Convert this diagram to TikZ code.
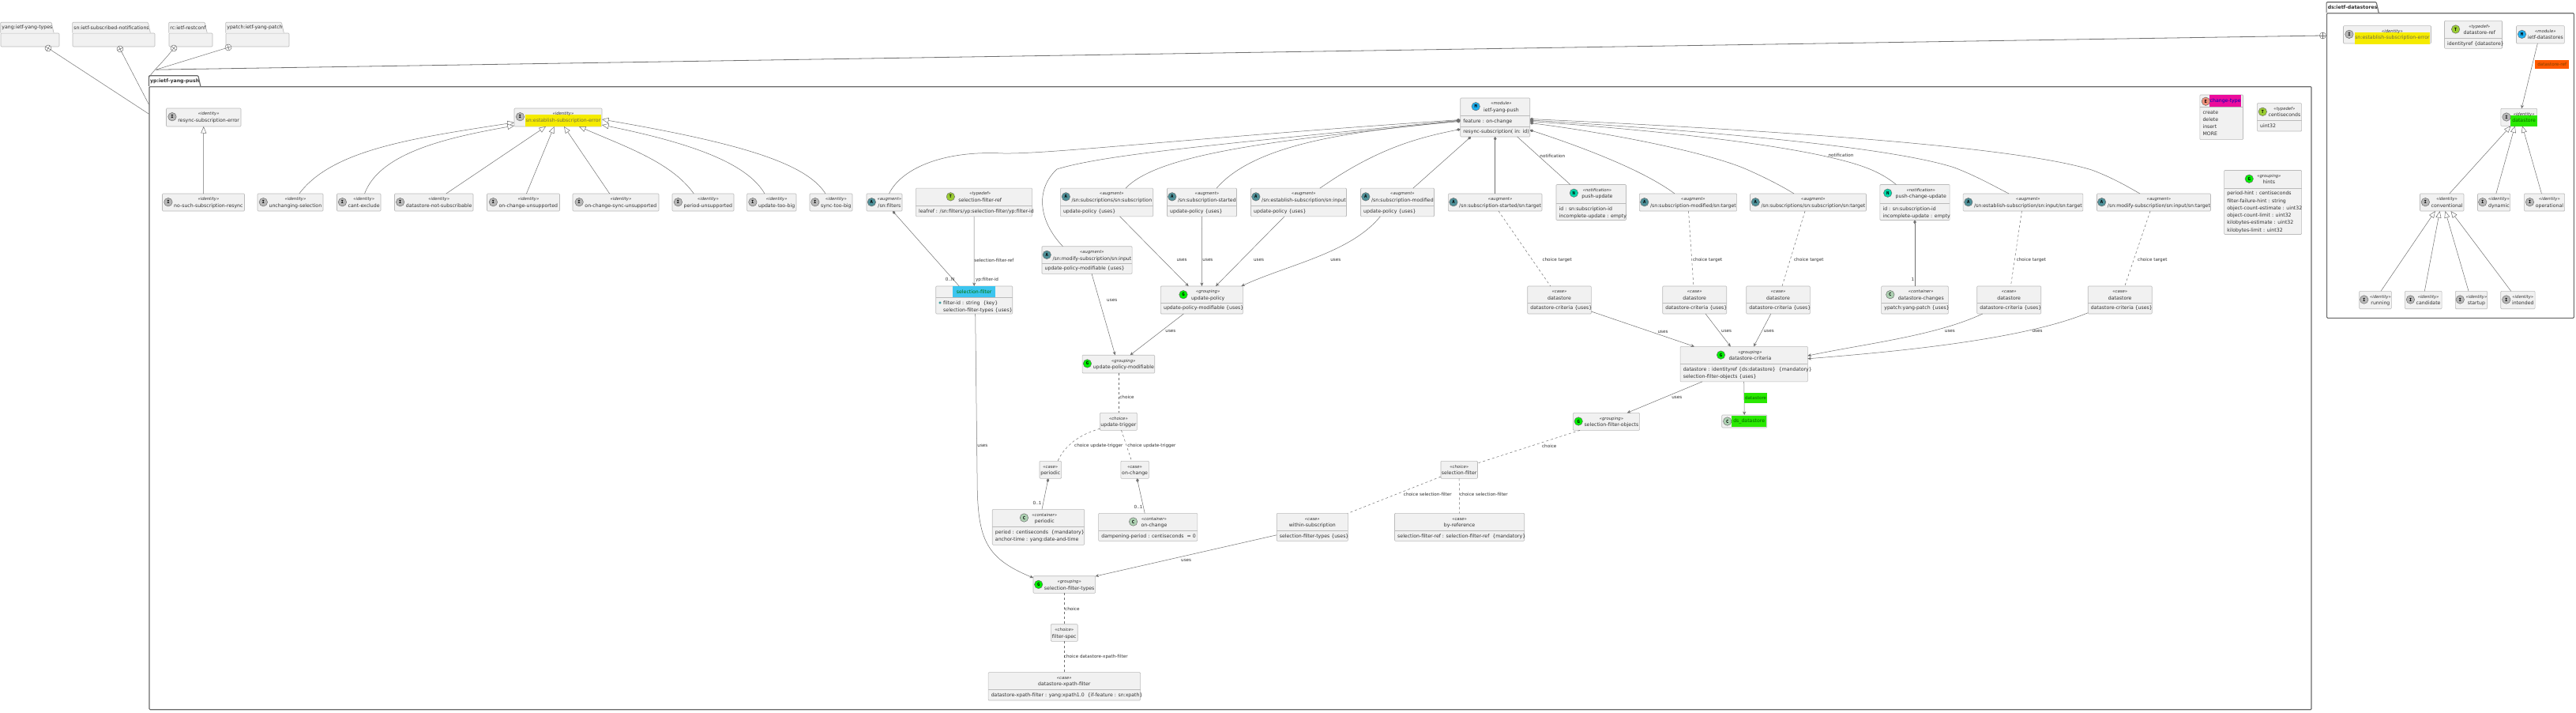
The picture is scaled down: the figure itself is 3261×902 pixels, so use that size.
\documentclass[tikz,border=0pt]{standalone}
\usepackage{fontspec}
\setmainfont{DejaVu Sans}
\setmonofont{DejaVu Sans Mono}
\usetikzlibrary{arrows.meta,positioning}
\definecolor{umlText}{HTML}{303030}
\definecolor{umlFill}{HTML}{F1F1F1}
\definecolor{umlEdge}{HTML}{BBBBBB}
\definecolor{umlLine}{HTML}{707070}
\definecolor{pkgEdge}{HTML}{6A6A6A}
\newcommand{\namefont}{\fontsize{6.2}{7.5}\selectfont}
\newcommand{\stereofont}{\fontsize{5.3}{6.5}\selectfont\itshape}
\newcommand{\labelfont}{\fontsize{5.66}{7}\selectfont}
\newcommand{\bodyfont}{\fontsize{6.2}{9.25}\selectfont}
\newlength{\namewd}
\newlength{\stereowd}
\tikzset{%
	classbox/.style  = {draw=umlEdge, fill=umlFill, rectangle, rounded corners=1pt, line width=0.6pt, inner sep=0pt, outer sep=0pt},
	sepline/.style   = {draw=umlEdge, line width=0.6pt},
	namelabel/.style = {font=\namefont, inner sep=0pt, anchor=base, text height=4.8pt, text depth=1.3pt},
	stereo/.style    = {font=\stereofont, inner sep=0pt, anchor=base},
	bodytext/.style  = {font=\bodyfont, inner sep=0pt, align=left, anchor=north west},
	edgelabel/.style = {font=\labelfont, inner sep=0pt},
	icon/.style      = {draw=umlLine, circle, line width=0.5pt, minimum size=10.5pt, inner sep=0pt, font=\ttfamily\bfseries\fontsize{5.6}{6}\selectfont, text=black},
	iconI/.style     = {icon, fill={rgb,255:red,184;green,184;blue,184}},
	iconA/.style     = {icon, fill={rgb,255:red,78;green,144;blue,152}},
	iconG/.style     = {icon, fill={rgb,255:red,0;green,238;blue,0}},
	iconT/.style     = {icon, fill={rgb,255:red,154;green,205;blue,50}},
	iconM/.style     = {icon, fill={rgb,255:red,30;green,176;blue,240}},
	iconN/.style     = {icon, fill={rgb,255:red,0;green,216;blue,168}},
	iconE/.style     = {icon, fill={rgb,255:red,239;green,143;blue,122}},
	iconC/.style     = {icon, fill={rgb,255:red,173;green,209;blue,178}},
	hlyellow/.style  = {fill={rgb,255:red,245;green,235;blue,0}, text=black!65!yellow, inner xsep=0.5pt, inner ysep=4.3pt},
	hlgreen/.style   = {fill={rgb,255:red,42;green,232;blue,0}, text=black!60!green, inner xsep=2pt, inner ysep=4pt},
	hlblue/.style    = {fill={rgb,255:red,60;green,197;blue,239}, text=black!55!green, inner xsep=5pt, inner ysep=4pt},
	hlmagenta/.style = {fill={rgb,255:red,236;green,12;blue,156}, text=black!30!blue, inner xsep=0.5pt, inner ysep=5pt},
	hlorange/.style  = {fill={rgb,255:red,255;green,90;blue,0}, text=black!50!orange, inner xsep=3pt, inner ysep=3pt},
	plainline/.style = {draw=umlLine, line width=0.5pt},
	usesarrow/.style = {plainline, -{Stealth[length=4.5pt,width=4pt]}},
	compline/.style  = {plainline, {Diamond[length=5pt,width=3.6pt]}-},
	extline/.style   = {plainline, -{Triangle[open,fill=white,length=8.5pt,width=7pt]}},
	choiceline/.style= {plainline, dash pattern=on 3pt off 3pt},
	pkgsmall/.style  = {draw=umlEdge, fill=umlFill, line width=0.7pt, rounded corners=1pt, inner sep=0pt},
	pkgbig/.style    = {draw=pkgEdge, fill=white, line width=1.1pt, rounded corners=1pt, inner sep=0pt},
	pkgtitle/.style  = {inner xsep=1.5pt, inner ysep=0pt, minimum height=13pt},
	nest/.style      = {draw=umlLine, fill=white, circle, line width=0.5pt, minimum size=8pt, inner sep=0pt,
		path picture={\draw[plainline] (path picture bounding box.center) ++(#1:5) -- ++(#1:-10) (path picture bounding box.center) ++(#1+90:5) -- ++(#1+90:-10);}},
	keymark/.style   = {draw=teal, circle, line width=0.5pt, minimum size=2.6pt, inner sep=0pt},
}
% [name options]{id}{placement}{width}{height}{icon letter}{stereotype}{name}
\newcommand{\classnode}[8][]{%
	\settowidth{\namewd}{\pgfinterruptpicture\namefont #8\endpgfinterruptpicture}%
	\settowidth{\stereowd}{\pgfinterruptpicture\stereofont #7\endpgfinterruptpicture}%
	\pgfmathsetmacro{\headwd}{max(\namewd,\stereowd)}%
	\pgfmathsetmacro{\icongap}{(#4-\headwd-11>12)?10:7.3}%
	\pgfmathsetmacro{\headoff}{(\icongap+5.5)/2}%
	\node[classbox,#3,minimum width=#4pt,minimum height=#5pt] (#2) {};
	\node[namelabel,#1] (#2name) at ([xshift=\headoff,yshift=-17.3]#2.north) {#8};
	\node[stereo] (#2stereo) at ([xshift=\headoff,yshift=-8.8]#2.north) {#7};
	\node[icon#6] (#2icon) at ([xshift={\headoff-0.5*\headwd-\icongap},yshift=-10.7]#2.north) {#6};
}
% same thing, without an icon
\newcommand{\casenode}[6]{%
	\node[classbox,#2,minimum width=#3pt,minimum height=#4pt] (#1) {};
	\node[namelabel] (#1name) at ([yshift=-17.3]#1.north) {#6};
	\node[stereo] (#1stereo) at ([yshift=-8.8]#1.north) {#5};
}
% [indent]{id}{separator below top}{lines}
\newcommand{\classbody}[4][3.5]{%
	\draw[sepline] ([yshift=-#3]#2.north west) -- ([yshift=-#3]#2.north east);
	\node[bodytext] (#2body) at ([xshift=#1,yshift={-#3-4}]#2.north west) {#4};
}
% {style}{id}{placement}{width}{height}{title}
\newcommand{\packagenode}[6]{%
	\node[#1,#3,minimum width=#4pt,minimum height=#5pt] (#2) {};
	\node[pkgtitle,anchor=south west] (#2tab) at (#2.north west) {#6};
	\draw[#1] (#2tab.south west) -- (#2tab.north west) -- ([xshift=-3]#2tab.north east) -- (#2tab.south east);
	\node[pkgtitle,anchor=south west] (#2title) at (#2.north west) {#6};
}
\begin{document}
\begin{tikzpicture}[x=1pt,y=-1pt,text=umlText]
	\useasboundingbox (0,0) rectangle (3261,902);
	% imported modules
	\packagenode{pkgsmall}{pkgTypes}{at={(38,50.5)}}{74}{17}{\namefont yang:ietf-yang-types}
	\packagenode{pkgsmall}{pkgNotif}{right of=pkgTypes,node distance=106pt}{104}{17}{\namefont sn:ietf-subscribed-notifications}
	\packagenode{pkgsmall}{pkgRestconf}{right of=pkgNotif,node distance=97.5pt}{55}{17}{\namefont rc:ietf-restconf}
	\packagenode{pkgsmall}{pkgPatch}{right of=pkgRestconf,node distance=84.5pt}{80}{17}{\namefont ypatch:ietf-yang-patch}
	\packagenode{pkgbig}{ypPkg}{at={(1557.5,503.7)}}{2737}{788}{\namefont\bfseries yp:ietf-yang-push}
	\packagenode{pkgbig}{dsPkg}{at={(3102,209.5)}}{312.7}{385.6}{\namefont\bfseries ds:ietf-datastores}

	% first row of yp
	\classnode{resyncError}{at={(257.75,148.5)}}{94.5}{23}{I}{«identity»}{resync-subscription-error}
	\classnode[hlyellow]{establishError}{right of=resyncError,node distance=448.75pt}{111}{23}{I}{«identity»}{sn:establish-subscription-error}
	\classnode{pushModule}{right of=establishError,node distance=1186.2pt}{88}{49}{M}{«module»}{ietf-yang-push}
	\classbody{pushModule}{22.7}{feature : on-change}
	\draw[sepline] ([yshift=-36]pushModule.north west) -- ([yshift=-36]pushModule.north east);
	\node[bodytext] (pushModuleRpc) at ([xshift=3.5,yshift=-40]pushModule.north west) {resync-subscription( in: id)};
	\node[classbox,minimum width=54.7pt,minimum height=56.7pt] (changeType) at (2812.15,148.3) {};
	\node[namelabel,hlmagenta] (changeTypename) at ([xshift=5,yshift=-10]changeType.north) {change-type};
	\node[iconE] (changeTypeicon) at ([xshift=7.5,yshift=-8.3]changeType.north west) {E};
	\classbody{changeType}{15.7}{create\\delete\\insert\\MORE}
	\classnode{centiseconds}{right of=changeType,node distance=73.35pt}{56.2}{35.3}{T}{«typedef»}{centiseconds}
	\classbody{centiseconds}{22}{uint32}

	% second row of yp
	\classnode{noSuchResync}{at={(257.5,256)}}{104}{22}{I}{«identity»}{no-such-subscription-resync}
	\classnode{unchanging}{right of=noSuchResync,node distance=110pt}{83}{22}{I}{«identity»}{unchanging-selection}
	\classnode{cantExclude}{right of=unchanging,node distance=86.75pt}{55.5}{22}{I}{«identity»}{cant-exclude}
	\classnode{notSubscribable}{right of=cantExclude,node distance=95pt}{99.5}{22}{I}{«identity»}{datastore-not-subscribable}
	\classnode{changeUnsupported}{right of=notSubscribable,node distance=113.25pt}{92}{22}{I}{«identity»}{on-change-unsupported}
	\classnode{syncUnsupported}{right of=changeUnsupported,node distance=117pt}{109}{22}{I}{«identity»}{on-change-sync-unsupported}
	\classnode{periodUnsupported}{right of=syncUnsupported,node distance=110.5pt}{78}{22}{I}{«identity»}{period-unsupported}
	\classnode{updateBig}{right of=periodUnsupported,node distance=86.8pt}{62.4}{22}{I}{«identity»}{update-too-big}
	\classnode{syncBig}{right of=updateBig,node distance=75.2pt}{54}{22}{I}{«identity»}{sync-too-big}
	\classnode{snFilters}{right of=syncBig,node distance=67.5pt}{45}{22}{A}{«augment»}{/sn:filters}
	\classnode{filterRef}{right of=snFilters,node distance=113.5pt}{147.3}{35.7}{T}{«typedef»}{selection-filter-ref}
	\classbody{filterRef}{22.4}{leafref : /sn:filters/yp:selection-filter/yp:filter-id}
	\classnode{augSubscription}{right of=filterRef,node distance=168pt}{117.4}{35.7}{A}{«augment»}{/sn:subscriptions/sn:subscription}
	\classbody{augSubscription}{22.4}{update-policy \{uses\}}
	\classnode{augStarted}{right of=augSubscription,node distance=120.5pt}{88}{35.7}{A}{«augment»}{/sn:subscription-started}
	\classbody{augStarted}{22.4}{update-policy \{uses\}}
	\classnode{augEstablish}{right of=augStarted,node distance=122.5pt}{121}{35.7}{A}{«augment»}{/sn:establish-subscription/sn:input}
	\classbody{augEstablish}{22.4}{update-policy \{uses\}}
	\classnode{augModified}{right of=augEstablish,node distance=125pt}{93}{35.7}{A}{«augment»}{/sn:subscription-modified}
	\classbody{augModified}{22.4}{update-policy \{uses\}}
	\classnode{tgtStarted}{right of=augModified,node distance=123.7pt}{118.6}{22}{A}{«augment»}{/sn:subscription-started/sn:target}
	\classnode{pushUpdate}{right of=tgtStarted,node distance=121.5pt}{88.5}{45}{N}{«notification»}{push-update}
	\classbody{pushUpdate}{23.7}{id : sn:subscription-id\\incomplete-update : empty}
	\classnode{tgtModified}{right of=pushUpdate,node distance=122.8pt}{123.3}{22}{A}{«augment»}{/sn:subscription-modified/sn:target}
	\classnode{tgtSubscription}{right of=tgtModified,node distance=152pt}{147}{22}{A}{«augment»}{/sn:subscriptions/sn:subscription/sn:target}
	\classnode{pushChange}{right of=tgtSubscription,node distance=135pt}{88.3}{45}{N}{«notification»}{push-change-update}
	\classbody{pushChange}{23.7}{id : sn:subscription-id\\incomplete-update : empty}
	\classnode{tgtEstablish}{right of=pushChange,node distance=137pt}{151.7}{22}{A}{«augment»}{/sn:establish-subscription/sn:input/sn:target}
	\classnode{tgtModify}{right of=tgtEstablish,node distance=165.5pt}{144}{22}{A}{«augment»}{/sn:modify-subscription/sn:input/sn:target}
	\classnode{hints}{right of=tgtModify,node distance=138.1pt}{98}{81}{G}{«grouping»}{hints}
	\classbody{hints}{22.4}{period-hint : centiseconds\\filter-failure-hint : string\\object-count-estimate : uint32\\object-count-limit : uint32\\kilobytes-estimate : uint32\\kilobytes-limit : uint32}

	% the rows below
	\classnode{augModify}{at={(1376,329)}}{114.1}{34.6}{A}{«augment»}{/sn:modify-subscription/sn:input}
	\classbody{augModify}{21.3}{update-policy-modifiable \{uses\}}
	\node[classbox,minimum width=97pt,minimum height=35pt] (selFilter) at (1233.2,379.5) {};
	\node[namelabel,hlblue] (selFiltername) at ([yshift=-9]selFilter.north) {selection-filter};
	\classbody[9.3]{selFilter}{14.3}{filter-id : string \ \{key\}\\selection-filter-types \{uses\}}
	\node[keymark] (selFilterkey) at ([xshift=5.3,yshift=-21]selFilter.north west) {};
	\classnode{updatePolicy}{right of=selFilter,node distance=288.2pt}{104}{35}{G}{«grouping»}{update-policy}
	\classbody{updatePolicy}{21}{update-policy-modifiable \{uses\}}
	\casenode{caseStarted}{right of=updatePolicy,node distance=452.6pt}{80.6}{35}{«case»}{datastore}
	\classbody{caseStarted}{21}{datastore-criteria \{uses\}}
	\casenode{caseModified}{right of=caseStarted,node distance=171.2pt}{81}{35}{«case»}{datastore}
	\classbody{caseModified}{21}{datastore-criteria \{uses\}}
	\casenode{caseSubscription}{right of=caseModified,node distance=105.8pt}{80.6}{35}{«case»}{datastore}
	\classbody{caseSubscription}{21}{datastore-criteria \{uses\}}
	\classnode{dsChanges}{right of=caseSubscription,node distance=173pt}{84.7}{35}{C}{«container»}{datastore-changes}
	\classbody{dsChanges}{21}{ypatch:yang-patch \{uses\}}
	\casenode{caseEstablish}{right of=dsChanges,node distance=119.2pt}{81}{35}{«case»}{datastore}
	\classbody{caseEstablish}{21}{datastore-criteria \{uses\}}
	\casenode{caseModify}{right of=caseEstablish,node distance=140.5pt}{81}{35}{«case»}{datastore}
	\classbody{caseModify}{21}{datastore-criteria \{uses\}}
	\classnode{policyMod}{at={(1415.9,460.6)}}{91.7}{22.7}{G}{«grouping»}{update-policy-modifiable}
	\classnode{dsCriteria}{right of=policyMod,node distance=791.8pt}{161.3}{44.4}{G}{«grouping»}{datastore-criteria}
	\classbody{dsCriteria}{22}{datastore : identityref \{ds:datastore\} \ \{mandatory\}\\selection-filter-objects \{uses\}}
	\casenode{updateTrigger}{below of=policyMod,node distance=72.7pt}{47}{22}{«choice»}{update-trigger}
	\classnode{selObjects}{right of=updateTrigger,node distance=617.6pt}{84.2}{22}{G}{«grouping»}{selection-filter-objects}
	\node[classbox,minimum width=57pt,minimum height=16pt] (dsDatastore) at (2208.2,533) {};
	\node[namelabel,hlgreen] (dsDatastorename) at ([xshift=6,yshift=-1.7]dsDatastore.center) {ds\_datastore};
	\node[iconC] (dsDatastoreicon) at ([xshift=7]dsDatastore.west) {C};
	\casenode{casePeriodic}{at={(1329.8,594.3)}}{27.6}{22}{«case»}{periodic}
	\casenode{caseChange}{right of=casePeriodic,node distance=106.8pt}{35.6}{22}{«case»}{on-change}
	\casenode{selChoice}{right of=caseChange,node distance=410.6pt}{46.5}{22}{«choice»}{selection-filter}
	\classnode{contPeriodic}{at={(1314.5,666.8)}}{116.5}{45}{C}{«container»}{periodic}
	\classbody{contPeriodic}{22.4}{period : centiseconds \ \{mandatory\}\\anchor-time : yang:date-and-time}
	\classnode{contChange}{right of=contPeriodic,node distance=138.7pt}{125.2}{35}{C}{«container»}{on-change}
	\classbody{contChange}{22}{dampening-period : centiseconds \ = 0}
	\casenode{within}{right of=contChange,node distance=208.1pt}{90.2}{35}{«case»}{within-subscription}
	\classbody{within}{22}{selection-filter-types \{uses\}}
	\casenode{byReference}{right of=within,node distance=186.3pt}{164.2}{35}{«case»}{by-reference}
	\classbody{byReference}{22}{selection-filter-ref : selection-filter-ref \ \{mandatory\}}
	\classnode{selTypes}{at={(1347.3,739.5)}}{78.6}{21.6}{G}{«grouping»}{selection-filter-types}
	\casenode{filterSpec}{below of=selTypes,node distance=61pt}{33.8}{21.6}{«choice»}{filter-spec}
	\casenode{xpathFilter}{below of=filterSpec,node distance=67.8pt}{192.5}{35.3}{«case»}{datastore-xpath-filter}
	\classbody{xpathFilter}{22}{datastore-xpath-filter : yang:xpath1.0 \ \{if-feature : sn:xpath\}}

	% ds:ietf-datastores
	\classnode[hlyellow]{dsIdentity}{at={(3022,43.8)}}{111}{22.3}{I}{«identity»}{sn:establish-subscription-error}
	\classnode{dsRef}{right of=dsIdentity,node distance=109pt}{73}{35}{T}{«typedef»}{datastore-ref}
	\classbody{dsRef}{22.3}{identityref \{datastore\}}
	\classnode{dsModule}{right of=dsRef,node distance=84.9pt}{60.8}{22.3}{M}{«module»}{ietf-datastores}
	\classnode[hlgreen]{dsRoot}{at={(3188.7,148.3)}}{45.8}{22}{I}{«identity»}{datastore}
	\classnode{conventional}{at={(3091.2,256)}}{55.5}{22}{I}{«identity»}{conventional}
	\classnode{dynamic}{right of=conventional,node distance=65.8pt}{41.1}{22}{I}{«identity»}{dynamic}
	\classnode{operational}{right of=dynamic,node distance=64pt}{51.2}{22}{I}{«identity»}{operational}
	\classnode{running}{at={(3007,379.5)}}{40.6}{22.4}{I}{«identity»}{running}
	\classnode{candidate}{right of=running,node distance=60.7pt}{46.7}{22.4}{I}{«identity»}{candidate}
	\classnode{startup}{right of=candidate,node distance=60.8pt}{40.4}{22.4}{I}{«identity»}{startup}
	\classnode{intended}{right of=startup,node distance=58.9pt}{43.3}{22.4}{I}{«identity»}{intended}

	% nesting marks and their lines
	\coordinate (ypJoin) at ([xshift=9,yshift=21]ypPkg.north west);
	\node[nest=33] (nestTypes) at (61,61) {};
	\node[nest=63] (nestNotif) at (152,62) {};
	\node[nest=130] (nestRestconf) at (220,61) {};
	\node[nest=162] (nestPatch) at (289,60) {};
	\node[nest=0] (nestDs) at (2940.4,45) {};
	\draw[plainline] (nestTypes) -- ([yshift=-35]ypPkg.north west);
	\draw[plainline] (nestNotif) -- ([yshift=-23]ypPkg.north west);
	\draw[plainline] (nestRestconf) .. controls (205,80) and (195,88) .. ([yshift=11]ypPkg.north west);
	\draw[plainline] (nestPatch) -- (ypJoin);
	\draw[plainline,line width=0.8pt] (nestDs) -- (ypJoin);

	% identity bases
	\draw[extline] (noSuchResync.north) -- (resyncError.south);
	\draw[extline] ([xshift=11.3]unchanging.north) .. controls (420,190) and (520,175) .. ([yshift=-6.5]establishError.west);
	\draw[extline] ([xshift=7.3]cantExclude.north) .. controls (480,195) and (560,175) .. ([yshift=-10.5]establishError.west);
	\draw[extline] ([xshift=15.5]notSubscribable.north) -- ([xshift=-15.5]establishError.south);
	\draw[extline] ([xshift=3.9]changeUnsupported.north) -- ([xshift=-5]establishError.south);
	\draw[extline] ([xshift=-7.8]syncUnsupported.north) -- ([xshift=7.5]establishError.south);
	\draw[extline] ([xshift=-11.7]periodUnsupported.north) .. controls (850,205) and (790,185) .. ([xshift=26.5]establishError.south);
	\draw[extline] ([xshift=-8.8]updateBig.north) .. controls (945,205) and (870,180) .. ([yshift=-9.5]establishError.east);
	\draw[extline] ([xshift=-7]syncBig.north) .. controls (1020,205) and (930,180) .. ([yshift=-2.5]establishError.east);

	% the module and what it holds
	\draw[compline] ([yshift=-3]pushModule.west) .. controls (1500,175) and (1330,195) .. (1270,194) .. controls (1190,190) and (1140,215) .. ([xshift=6]snFilters.north);
	\draw[compline] ([yshift=-3.5]pushModule.west) .. controls (1550,182) and (1400,195) .. (1338,214) .. controls (1310,240) and (1315,280) .. ([xshift=-30.5]augModify.north);
	\draw[compline] ([yshift=-4]pushModule.west) .. controls (1650,175) and (1470,190) .. ([xshift=24]augSubscription.north);
	\draw[compline] ([yshift=-5]pushModule.west) .. controls (1720,165) and (1590,180) .. ([xshift=18.5]augStarted.north);
	\draw[compline] ([yshift=-15]pushModule.west) .. controls (1790,175) and (1740,190) .. ([xshift=26.8]augEstablish.north);
	\draw[compline] ([xshift=-30.7]pushModule.south) -- ([xshift=19.8]augModified.north);
	\draw[compline] (pushModule.south) -- (tgtStarted.north);
	\draw[plainline] ([xshift=28]pushModule.south) -- node[edgelabel,pos=0.4,xshift=17.8pt] (lbNotif) {notification} ([xshift=-26.4]pushUpdate.north);
	\draw[compline] ([yshift=-16]pushModule.east) .. controls (2000,185) and (2080,215) .. ([xshift=-17]tgtModified.north);
	\draw[compline] ([yshift=-7]pushModule.east) .. controls (2050,170) and (2170,195) .. (2215,216) .. controls (2235,225) and (2255,235) .. ([xshift=-18]tgtSubscription.north);
	\draw[compline] ([yshift=-5]pushModule.east) .. controls (2100,165) and (2290,185) .. (2362,212) .. controls (2378,218) and (2390,225) .. ([xshift=-23.6]pushChange.north);
	\draw[compline] ([yshift=-3.5]pushModule.east) .. controls (2150,165) and (2390,185) .. (2474,212) .. controls (2500,222) and (2520,233) .. ([xshift=-18]tgtEstablish.north);
	\draw[compline] ([yshift=-2]pushModule.east) .. controls (2250,165) and (2550,185) .. (2648,215) .. controls (2672,224) and (2690,234) .. ([xshift=-17.5]tgtModify.north);
	\node[edgelabel] (lbNotifChange) at (2330.4,196.7) {notification};

	% filters
	\draw[compline] ([xshift=10.5]snFilters.south) -- node[edgelabel,pos=0.91,xshift=-4pt] (lbFilterN) {0..N} ([xshift=-19]selFilter.north);
	\draw[usesarrow] (filterRef.south) -- node[edgelabel,pos=0.63,xshift=25.3pt] (lbFilterRef) {selection-filter-ref} node[edgelabel,pos=0.905,xshift=16.3pt] (lbFilterId) {yp:filter-id} (selFilter.north);
	\draw[usesarrow] ([xshift=1.5]selFilter.south) -- (1237,600) .. controls (1237,680) and (1245,705) .. ([yshift=8.5]selTypes.west);
	\node[edgelabel] (lbFilterUses) at (1243.9,564.3) {uses};

	% update policy
	\draw[usesarrow] ([xshift=16.6]augSubscription.south) -- node[edgelabel,pos=0.626,xshift=24pt] (lbPolicyA) {uses} ([xshift=-16.8]updatePolicy.north);
	\draw[usesarrow] (augStarted.south) -- node[edgelabel,pos=0.626,xshift=7.5pt] (lbPolicyB) {uses} (updatePolicy.north);
	\draw[usesarrow] ([xshift=-18]augEstablish.south) -- node[edgelabel,pos=0.626,xshift=22pt] (lbPolicyC) {uses} ([xshift=17.6]updatePolicy.north);
	\draw[usesarrow] ([xshift=-21.7]augModified.south) .. controls (1710,320) and (1630,335) .. ([xshift=50]updatePolicy.north);
	\node[edgelabel] (lbPolicyD) at (1690.8,329.3) {uses};
	\draw[usesarrow] ([xshift=6]augModify.south) -- node[edgelabel,pos=0.327,xshift=16pt] (lbModA) {uses} ([xshift=-4.2]policyMod.north);
	\draw[usesarrow] ([xshift=-23]updatePolicy.south) -- node[edgelabel,pos=0.42,xshift=12pt] (lbModB) {uses} ([xshift=14.7]policyMod.north);
	\draw[choiceline] (policyMod.south) -- node[edgelabel,pos=0.61,xshift=10.6pt] (lbTrigger) {choice} (updateTrigger.north);
	\draw[choiceline] ([yshift=2]updateTrigger.south west) .. controls (1365,550) and (1347,565) .. ([xshift=9.2]casePeriodic.north);
	\node[edgelabel] (lbTriggerA) at (1390.8,564.3) {choice update-trigger};
	\draw[choiceline] ([xshift=3.6]updateTrigger.south) -- node[edgelabel,pos=0.51,xshift=31.7pt] (lbTriggerB) {choice update-trigger} ([xshift=-4]caseChange.north);
	\draw[compline] ([xshift=-2.8]casePeriodic.south) -- node[edgelabel,pos=0.8,xshift=-7.6pt] (lbPeriodic) {0..1} ([xshift=4.5]contPeriodic.north);
	\draw[compline] ([xshift=2.8]caseChange.south) -- node[edgelabel,pos=0.82,xshift=-6.4pt] (lbChange) {0..1} ([xshift=-4]contChange.north);

	% selection filter
	\draw[usesarrow] ([yshift=-10]within.west) -- node[edgelabel,pos=0.62,xshift=27.8pt] (lbWithin) {uses} ([yshift=10.5]selTypes.east);
	\draw[choiceline] ([yshift=2.3]selChoice.south west) -- node[edgelabel,pos=0.49,xshift=41pt] (lbChoiceA) {choice selection-filter} (within.north east);
	\draw[choiceline] (selChoice.south) -- node[edgelabel,pos=0.46,xshift=31pt] (lbChoiceB) {choice selection-filter} (byReference.north);
	\draw[choiceline] ([xshift=-33.4]selObjects.south) -- node[edgelabel,pos=0.48,xshift=23.4pt] (lbObjects) {choice} ([yshift=8.3]selChoice.east);
	\draw[choiceline] (selTypes.south) -- node[edgelabel,xshift=10pt] (lbSpec) {choice} (filterSpec.north);
	\draw[choiceline] (filterSpec.south) -- node[edgelabel,xshift=40pt] (lbXpath) {choice datastore-xpath-filter} (xpathFilter.north);

	% datastore criteria
	\draw[usesarrow] ([xshift=-52.7]dsCriteria.south) -- node[edgelabel,pos=0.51,xshift=16.4pt] (lbObjUses) {uses} ([xshift=26.3]selObjects.north);
	\draw[usesarrow] (dsCriteria.south) -- node[edgelabel,hlgreen,inner xsep=1pt,pos=0.49,xshift=14.7pt] (lbDatastore) {datastore} (dsDatastore.north);
	\draw[usesarrow] ([yshift=-14.5]caseStarted.east) -- node[edgelabel,pos=0.575,xshift=15.6pt] (lbCaseA) {uses} ([xshift=-62.7]dsCriteria.north);
	\draw[usesarrow] ([xshift=13.8]caseModified.south) -- node[edgelabel,pos=0.53,xshift=9.8pt] (lbCaseB) {uses} ([xshift=-16.9]dsCriteria.north);
	\draw[usesarrow] ([xshift=-9.2]caseSubscription.south) -- node[edgelabel,pos=0.53,xshift=9pt] (lbCaseC) {uses} ([xshift=12.3]dsCriteria.north);
	\draw[usesarrow] ([xshift=-33.5]caseEstablish.south) .. controls (2450,425) and (2360,435) .. ([yshift=10.5]dsCriteria.east);
	\draw[usesarrow] ([yshift=-16.2]caseModify.west) .. controls (2560,430) and (2400,445) .. ([yshift=6.8]dsCriteria.east);
	\node[edgelabel] (lbCaseD) at (2468.4,419.3) {uses};
	\node[edgelabel] (lbCaseE) at (2579,419.3) {uses};
	\draw[choiceline] ([xshift=4.3]tgtStarted.south) -- node[edgelabel,pos=0.656,xshift=31pt] (lbTargetA) {choice target} ([xshift=-11.2]caseStarted.north);
	\draw[choiceline] ([xshift=0.5]tgtModified.south) -- node[edgelabel,pos=0.656,xshift=20pt] (lbTargetB) {choice target} ([xshift=-1.3]caseModified.north);
	\draw[choiceline] ([xshift=-4]tgtSubscription.south) -- node[edgelabel,pos=0.656,xshift=23.8pt] (lbTargetC) {choice target} ([xshift=5]caseSubscription.north);
	\draw[choiceline] ([xshift=-1.6]tgtEstablish.south) -- node[edgelabel,pos=0.656,xshift=21.2pt] (lbTargetD) {choice target} ([xshift=2.2]caseEstablish.north);
	\draw[choiceline] ([xshift=-4.5]tgtModify.south) -- node[edgelabel,pos=0.656,xshift=24pt] (lbTargetE) {choice target} ([xshift=6]caseModify.north);
	\draw[compline] (pushChange.south) -- node[edgelabel,pos=0.9,xshift=-2.6pt] (lbChanges) {1} (dsChanges.north);

	% datastores
	\draw[usesarrow] ([xshift=-3.6]dsModule.south) -- node[edgelabel,hlorange,pos=0.324,xshift=25pt] (lbDsRef) {datastore-ref} ([xshift=3.3]dsRoot.north);
	\draw[extline] ([xshift=9.5]conventional.north) -- ([xshift=-10.3]dsRoot.south);
	\draw[extline] ([xshift=2.8]dynamic.north) -- ([xshift=-5]dsRoot.south);
	\draw[extline] ([xshift=-3.6]operational.north) -- ([xshift=4.3]dsRoot.south);
	\draw[extline] ([xshift=7]running.north) -- ([xshift=-8.4]conventional.south);
	\draw[extline] ([xshift=1.6]candidate.north) -- ([xshift=-2.7]conventional.south);
	\draw[extline] ([xshift=-3.5]startup.north) -- ([xshift=4.2]conventional.south);
	\draw[extline] ([xshift=-8.7]intended.north) -- ([xshift=11.3]conventional.south);
\end{tikzpicture}
\end{document}
